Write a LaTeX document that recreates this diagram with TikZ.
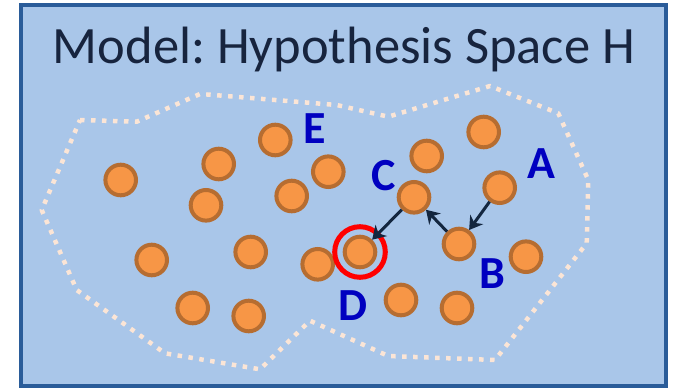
\documentclass[tikz,border=0pt]{standalone}
\usepackage{fontspec}
\setmainfont{Carlito}
\frenchspacing
\usetikzlibrary{arrows.meta}
\definecolor{panelfill}{HTML}{A9C6E9}
\definecolor{panelline}{HTML}{2A5C99}
\definecolor{titleink}{HTML}{17243E}
\definecolor{hypfill}{HTML}{F79646}
\definecolor{hypline}{HTML}{B66D31}
\definecolor{tagink}{HTML}{0000C0}
\definecolor{edgeink}{HTML}{13263F}
\definecolor{rimdots}{HTML}{FBE5D6}
\tikzset{
  frame/.style={%
    draw=panelline,fill=panelfill,
    line width=4.5pt,
  },
  hypo/.style={%
    circle,draw=hypline,fill=hypfill,
    line width=4pt,
    minimum size=30.6pt,
    inner sep=0pt,
  },
  tag/.style={%
    anchor=base,inner sep=0pt,
    text=tagink,
    font=\fontsize{46}{46}\selectfont\bfseries,
  },
  hop/.style={%
    draw=edgeink,line width=3pt,
    -{Stealth[length=13pt,width=16pt]},
  },
  rim/.style={%
    draw=rimdots,line width=4.5pt,
    dash pattern=on 4.5pt off 6.5pt,
    line join=round,
  }
}

\begin{document}
\begin{tikzpicture}[x=1pt,y=-1pt]
\useasboundingbox (0,0) rectangle (673,388);
\draw[frame] (21,5) rectangle (666,386);
\node[anchor=base,inner sep=0pt,text=titleink,
      font=\fontsize{52.5}{52.5}\selectfont] (title) at (344,63.3)
      {Model: Hypothesis Space H};
% boundary of H
\draw[rim] (80,120) -- (136.7,121.7) -- (200,94) -- (210,94.7)
  -- (336.7,105) -- (388.3,116.7) -- (490,86) -- (558.3,113.3)
  -- (588.3,180) -- (586.7,243.3) -- (495,360) -- (388.3,356)
  -- (310,320.7) -- (260,369.3) -- (165,353.3) -- (76.7,290)
  -- (41.7,210) -- cycle;
% plain hypotheses
\foreach \i/\px/\py in {1/120.7/180, 2/218.7/164, 3/275.3/140,
    4/328.3/171.7, 5/206/205.3, 6/291.7/196, 7/151.7/260,
    8/250.7/252, 9/317.7/264.3, 10/192.7/308, 11/248.7/316,
    12/483.7/132, 13/426.7/156, 14/526/256.7, 15/401/300,
    16/457/308}
  \node[hypo] (h\i) at (\px,\py) {};
% labelled hypotheses
\node[hypo] (hA) at (499.7,187.7) {};
\node[hypo] (hB) at (459,244) {};
\node[hypo] (hC) at (414,197.3) {};
\node[hypo] (hD) at (360,252) {};
\draw[red,line width=5pt] (hD.center) circle (25.3pt);
\node[tag] (tagA) at (541.7,178.3) {A};
\node[tag] (tagB) at (492.3,288.3) {B};
\node[tag] (tagC) at (383.3,190) {C};
\node[tag] (tagD) at (353.3,320) {D};
\node[tag] (tagE) at (314.7,143.3) {E};
% search path
\draw[hop] (hA) -- (hB);
\draw[hop] (hB) -- (hC);
\draw[hop] (hC) -- (hD);
\end{tikzpicture}
\end{document}
